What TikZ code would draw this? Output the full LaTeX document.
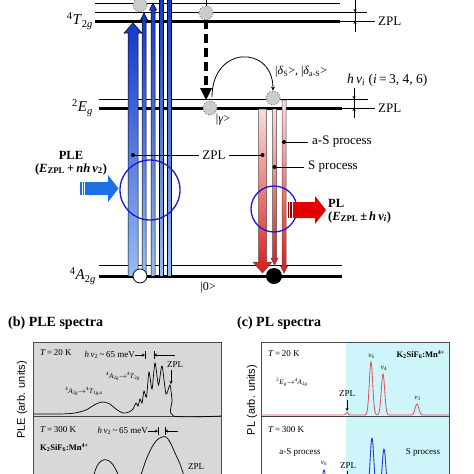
\documentclass[tikz,border=0pt]{standalone}
\usepackage{fontspec}
\setmainfont{Liberation Serif}
\newfontfamily\arialf{Liberation Sans}
\usetikzlibrary{arrows.meta}
\definecolor{bdark}{RGB}{20,55,200}
\definecolor{blight}{RGB}{150,190,245}
\definecolor{pleblue}{RGB}{30,110,230}
\definecolor{rdark}{RGB}{225,25,25}
\definecolor{rlight}{RGB}{250,220,220}
\definecolor{circblue}{RGB}{25,25,205}
\definecolor{cyanbg}{RGB}{205,245,250}
\definecolor{panelgray}{RGB}{216,216,216}
\definecolor{plred}{RGB}{225,80,80}
\definecolor{plblue}{RGB}{40,60,220}
\begin{document}
\begin{tikzpicture}[x=1pt,y=-1pt,
  lvl/.style={line width=0.8pt},
  lvlthick/.style={line width=3pt},
  lbl/.style={font=\fontsize{13}{15}\selectfont, inner sep=0pt},
  statelbl/.style={font=\fontsize{12}{14}\selectfont, inner sep=0pt},
  lvllbl/.style={font=\fontsize{15}{17}\selectfont, inner sep=0pt, anchor=east},
  boldlbl/.style={font=\fontsize{12.5}{14}\selectfont\bfseries, inner sep=0pt},
  small/.style={font=\fontsize{9}{11}\selectfont, inner sep=0pt},
  tiny/.style={font=\fontsize{7}{8}\selectfont, inner sep=0pt},
  title/.style={font=\fontsize{14}{16}\selectfont\bfseries, inner sep=0pt, anchor=west},
  axlbl/.style={font=\arialf\fontsize{11}{13}\selectfont, inner sep=0pt, rotate=90},
  graycirc/.style={circle, minimum size=14pt, inner sep=0pt, fill=gray!40, draw=gray!70!black, dotted, line width=0.8pt},
  bar/.style={draw=black, line width=0.5pt, top color=bdark, bottom color=blight},
  rbar/.style={draw=black!70, line width=0.5pt, top color=rlight, bottom color=rdark},
  tip/.style={-{Stealth[length=3pt,width=3pt]}, line width=0.5pt},
  leader/.style={line width=0.6pt},
  spec/.style={line width=0.7pt},
  ring/.style={draw=circblue, line width=1.3pt},
]
\path[use as bounding box] (0,0) rectangle (474,474);
\clip (0,0) rectangle (474,474);

% ---------- energy levels ----------
\draw[lvl] (95,3) -- (340,3);
\draw[lvl] (95,12) -- (367,12);
\draw[lvlthick] (95,21) -- (340,21);
\draw[lvl] (340,21) coordinate (zA) -- (375,21) coordinate (zB);
\node[lbl, anchor=west] (zpl1) at (378,21) {ZPL};
\node[lvllbl] (t2g) at (93,21) {\textsuperscript{4}\textit{T}\textsubscript{2\textit{g}}};

\draw[lvl] (99,99) -- (368,99);
\draw[lvlthick] (99,108) -- (342,108);
\draw[lvl] (342,108) -- (375,108);
\node[lbl, anchor=west] (zpl2) at (378,108) {ZPL};
\node[lvllbl] (eg) at (93,108) {\textsuperscript{2}\textit{E}\textsubscript{\textit{g}}};

\draw[lvl] (99,265) -- (342,265);
\draw[lvlthick] (99,276) -- (342,276);
\node[lvllbl] (a2g) at (96,276) {\textsuperscript{4}\textit{A}\textsubscript{2\textit{g}}};

% dimension markers
\coordinate (d1t) at (355,-1); \coordinate (d1b) at (355,32);
\draw[line width=0.6pt] (d1t) -- (d1b);
\draw[tip] (355,3) -- (355,12);
\draw[tip] (355,30) -- (355,21);
\coordinate (d2t) at (354,88); \coordinate (d2b) at (354,118);
\draw[line width=0.6pt] (d2t) -- (d2b);
\draw[tip] (354,90) -- (354,99);
\draw[tip] (354,117) -- (354,108);

% ---------- blue excitation arrows ----------
\path[bar] (128,276) -- (128,33) -- (124,33) -- (133,23) -- (142,33) -- (138,33) -- (138,276) -- cycle;
\path[bar] (142,276) -- (142,20) -- (140.5,20) -- (144,13) -- (147.5,20) -- (146,20) -- (146,276) -- cycle;
\path[bar] (151,276) -- (151,10) -- (149.5,10) -- (153,3) -- (156.5,10) -- (155,10) -- (155,276) -- cycle;
\path[bar] (159,276) rectangle (163,-2);
\path[bar] (167,276) rectangle (171,-2);

% ---------- red emission arrows ----------
\path[rbar] (258.5,109) -- (258.5,262) -- (253,262) -- (262.5,273) -- (272,262) -- (266.5,262) -- (266.5,109) -- cycle;
\path[rbar] (272.5,109) -- (272.5,258) -- (271,258) -- (274.5,265) -- (278,258) -- (276.5,258) -- (276.5,109) -- cycle;
\path[rbar] (282,100) -- (282,266) -- (280.5,266) -- (284,273) -- (287.5,266) -- (286,266) -- (286,100) -- cycle;

% ---------- state circles ----------
\node[graycirc] (c1) at (140,5) {};
\node[graycirc] (c2) at (206,13) {};
\node[graycirc] (gam) at (210,108) {};
\node[graycirc] (del) at (273,98) {};
\node[circle, minimum size=14pt, inner sep=0pt, fill=white, draw=black, line width=0.8pt] (g0) at (140,276) {};
\node[circle, minimum size=16pt, inner sep=0pt, fill=black] (g1) at (274,276) {};

% non-radiative dashed arrow
\draw[line width=0.8pt] (206,-2) -- (c2.north);
\draw[line width=3.5pt, dash pattern=on 9pt off 5pt] (c2.south) -- (206,88);
\fill (200,88) -- (212,88) -- (206,100) -- cycle;

% arc to delta states
\draw[line width=0.8pt, -{Stealth[length=4pt,width=4pt]}] (212,97) .. controls (212,45) and (273,45) .. (del.north);

% labels
\node[statelbl] (gl) at (223,120) {|\textit{γ}>};
\node[statelbl, anchor=west] (dl) at (275,72) {|\textit{δ}\textsubscript{S}>, |\textit{δ}\textsubscript{a-S}>};
\node[lbl, anchor=west, font=\fontsize{13.5}{15}\selectfont] (hnu) at (347,80) {\textit{h}\,\textit{ν}\textsubscript{\textit{i}} (\textit{i}\,=\,3, 4, 6)};
\node[statelbl] (zero) at (208,288) {|0>};

% leaders
\fill (133,155) circle (2pt) coordinate (dZb);
\fill (262.5,155) circle (2pt) coordinate (dZr);
\fill (284,142) circle (2pt) coordinate (daS);
\fill (274.5,167) circle (2pt) coordinate (dS);
\node[lbl] (zplmid) at (214,155) {ZPL};
\draw[leader] (dZb) -- (199,155);
\draw[leader] (229,155) -- (dZr);
\node[lbl, anchor=west] (aSp) at (312,142) {a-S process};
\draw[leader] (daS) -- (308,142);
\node[lbl, anchor=west] (Sp) at (308,167) {S process};
\draw[leader] (dS) -- (304,167);

% rings
\draw[ring] (150,190) circle (30);
\draw[ring] (274,209) circle (23);

% PLE block arrow
\fill[pleblue] (87,182) -- (108,182) -- (108,175) -- (118.5,188.5) -- (108,202) -- (108,195) -- (87,195) -- cycle;
\fill[pleblue] (80,182) rectangle (81.5,195);
\fill[pleblue] (82.7,182) rectangle (84.2,195);
\fill[pleblue] (85.4,182) rectangle (86.6,195);
\node[boldlbl] (ple) at (71,155) {PLE};
\node[boldlbl] (plef) at (71,169) {(\textit{E}\textsubscript{ZPL}\,+\,\textit{nh}\,\textit{ν}\textsubscript{2})};

% PL block arrow
\fill[red!90!black] (293,202) -- (315,202) -- (315,196) -- (326,210) -- (315,224) -- (315,218) -- (293,218) -- cycle;
\fill[red!60!black] (288,202) rectangle (289.3,218);
\fill[red!60!black] (290.3,202) rectangle (291.6,218);
\node[boldlbl, anchor=west] (pl) at (328,203) {PL};
\node[boldlbl, anchor=west] (plf) at (328,217) {(\textit{E}\textsubscript{ZPL}\,±\,\textit{h}\,\textit{ν}\textsubscript{\textit{i}})};

% ---------- panel (b) ----------
\node[title] (tb) at (8,323) {(b) PLE spectra};
\draw[fill=panelgray, draw=gray!60!black, line width=0.8pt] (33,342) rectangle (221,480);
\draw[gray!50!black, line width=0.7pt] (33,416) -- (221,416);
\node[axlbl] (yb) at (22,400) {PLE (arb. units)};
\draw[spec] plot[smooth, tension=0.45] coordinates {(33,414) (60,414) (75,413) (86,410) (95,404.5) (102,402) (109,403.5) (116,409) (123,413) (129,412) (133,409) (136,403) (138,406) (140,399) (142,403) (144,391) (146.5,397) (149,372) (152,389) (155,363) (158.5,385) (162,366) (166,394) (170,385) (172,400) (173.5,416) (221,416)};
\begin{scope}
\clip (33,342) rectangle (221,474);
\draw[spec] plot[smooth, tension=0.5] coordinates {(140,478) (146,460) (152,447) (157,440) (162,437) (166,437) (170,442) (175,453) (180,464) (184,476)};
\draw[spec] plot[smooth, tension=0.6] coordinates {(93,478) (97,466) (102,460.5) (107,460) (112,463.5) (117,472) (119,478)};
\end{scope}
\node[small, anchor=west] (tb20) at (40,353) {\textit{T}\,=\,20 K};
\node[small, anchor=east] (hb20) at (135,355) {\textit{h}\,\textit{ν}\textsubscript{2}\,\textasciitilde\,65 meV};
\draw[tip] (hb20.east) -- (145,355);
\draw[tip] (175,355) -- (154,355);
\draw[line width=0.5pt] (145,351) -- (145,359) (154,351) -- (154,359);
\node[small] (zb20) at (175,365) {ZPL};
\draw[tip] (171,370) -- (171,384);
\node[tiny] (tr1) at (123,376) {\textsuperscript{4}\textit{A}\textsubscript{2\textit{g}}$\rightarrow$\textsuperscript{4}\textit{T}\textsubscript{2\textit{g}}};
\node[tiny] (tr2) at (84,391) {\textsuperscript{4}\textit{A}\textsubscript{2\textit{g}}$\rightarrow$\textsuperscript{4}\textit{T}\textsubscript{1\textit{g},\textit{a}}};
\node[small, anchor=west] (tb300) at (40,430) {\textit{T}\,=\,300 K};
\node[small, anchor=east] (hb300) at (148,431) {\textit{h}\,\textit{ν}\textsubscript{2}\,\textasciitilde\,65 meV};
\draw[tip] (hb300.east) -- (158,431);
\draw[tip] (178,431) -- (165,431);
\draw[line width=0.5pt] (158,427) -- (158,435) (165,427) -- (165,435);
\node[small, font=\fontsize{8.5}{10}\selectfont\bfseries, anchor=west] (kb) at (40,448) {K\textsubscript{2}SiF\textsubscript{6}:Mn\textsuperscript{4+}};
\node[small] (zb300) at (196,467) {ZPL};

% ---------- panel (c) ----------
\node[title] (tc) at (237,323) {(c) PL spectra};
\fill[white] (261,342) rectangle (346,480);
\fill[cyanbg] (346,342) rectangle (449,480);
\draw[draw=gray!60!black, line width=0.8pt] (261,342) rectangle (449,480);
\draw[gray!50!black, line width=0.7pt] (261,416) -- (449,416);
\node[axlbl] (yc) at (252,400) {PL (arb. units)};
\begin{scope}
\clip (261,342) rectangle (449,474);
\draw[plred, line width=0.8pt] plot[domain=261:449, samples=380] (\x, {415 - 53*exp(-((\x-371)/2.4)^2) - 41*exp(-((\x-383)/2.4)^2) - 11*exp(-((\x-417)/2.6)^2) - 2.5*exp(-((\x-347)/1.5)^2)});
\draw[plblue, line width=0.9pt] plot[domain=300:420, samples=300] (\x, {492 - 54*exp(-((\x-372)/2.6)^2) - 43*exp(-((\x-384)/2.6)^2) - 22*exp(-((\x-324)/2.4)^2)});
\end{scope}
\node[small, anchor=west] (tc20) at (268,354) {\textit{T}\,=\,20 K};
\node[font=\fontsize{8.5}{10}\selectfont\bfseries, inner sep=0pt, anchor=east] (kc) at (445,355) {K\textsubscript{2}SiF\textsubscript{6}:Mn\textsuperscript{4+}};
\node[tiny] (trc) at (292,382) {\textsuperscript{2}\textit{E}\textsubscript{\textit{g}}$\rightarrow$\textsuperscript{4}\textit{A}\textsubscript{2\textit{g}}};
\node[small] (zc20) at (347,394) {ZPL};
\draw[tip] (347,400) -- (347,411);
\node[tiny] (n6) at (371.5,356) {\textit{ν}\textsubscript{6}};
\node[tiny] (n4) at (384,368) {\textit{ν}\textsubscript{4}};
\node[tiny] (n3) at (417.5,398) {\textit{ν}\textsubscript{3}};
\node[small, anchor=west] (tc300) at (268,430) {\textit{T}\,=\,300 K};
\node[small] (aSc) at (300,452) {a-S process};
\node[small] (Sc) at (423,452) {S process};
\node[tiny] (n6b) at (324,463) {\textit{ν}\textsubscript{6}};
\node[small] (zc300) at (348,466) {ZPL};
\draw[line width=0.5pt] (347,471) -- (347,476);
\end{tikzpicture}
\end{document}
